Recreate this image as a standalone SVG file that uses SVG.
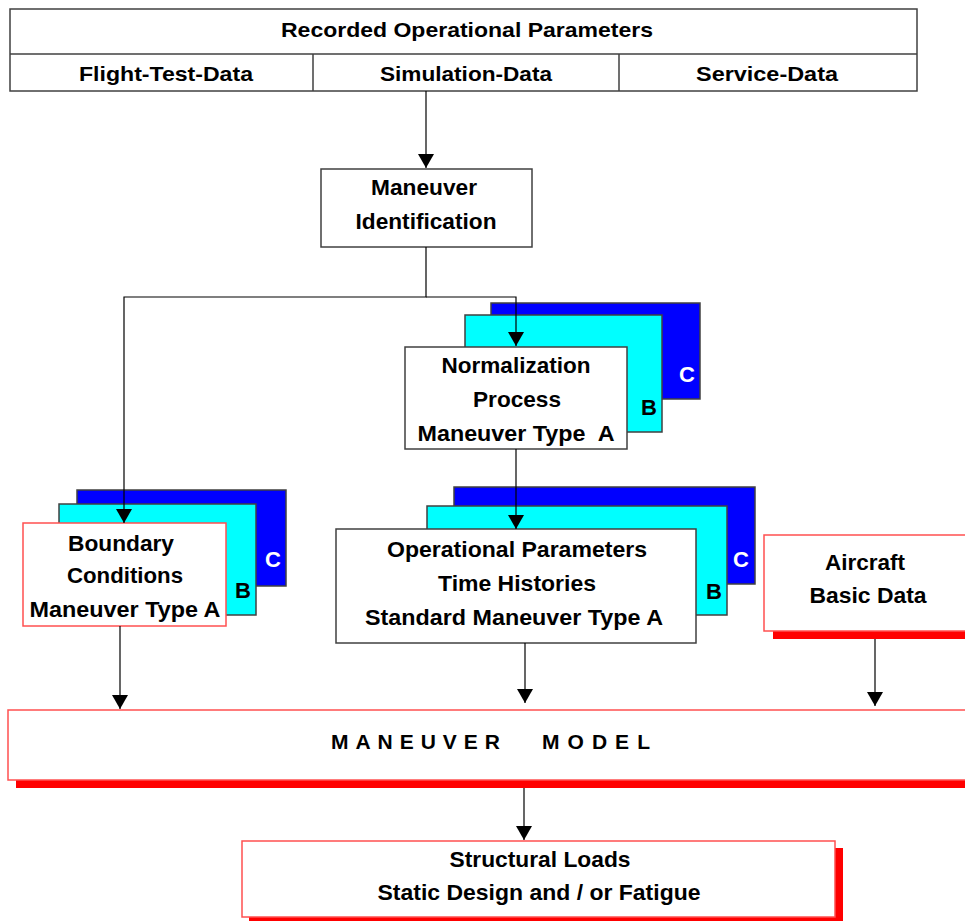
<svg xmlns="http://www.w3.org/2000/svg" width="965" height="921" viewBox="0 0 965 921">
<style>
text{font-family:"Liberation Sans",Arial,sans-serif;font-weight:bold;fill:#000;}
.t{font-size:21px;text-anchor:middle;}
.n{font-size:22px;text-anchor:middle;}
.box{fill:#fff;stroke:#404040;stroke-width:1.5;}
.rbox{fill:#fff;stroke:#ff5050;stroke-width:1.5;}
.cy{fill:#00ffff;stroke:#404040;stroke-width:1.5;}
.bl{fill:#0000ff;stroke:#404040;stroke-width:1.5;}
.sh{fill:#ff0000;}
.wl{fill:#fff;font-size:22px;text-anchor:middle;}
.bk{font-size:22px;text-anchor:middle;}
.edge{fill:none;stroke:#000;stroke-width:1.2;}
</style>
<defs>
<marker id="ah" viewBox="0 0 14 16" refX="14" refY="8" markerWidth="14" markerHeight="16" markerUnits="userSpaceOnUse" orient="auto">
<path d="M0,0 L14,8 L0,16 z" fill="#000"/>
</marker>
</defs>
<rect x="0" y="0" width="965" height="921" fill="#fff"/>

<g id="recorded">
<rect class="box" x="10" y="9" width="907" height="82"/>
<line x1="10" y1="54" x2="917" y2="54" stroke="#404040" stroke-width="1.5"/>
<line x1="313" y1="54" x2="313" y2="91" stroke="#404040" stroke-width="1.5"/>
<line x1="619" y1="54" x2="619" y2="91" stroke="#404040" stroke-width="1.5"/>
<text class="t" x="467" y="37" textLength="372" lengthAdjust="spacingAndGlyphs">Recorded Operational Parameters</text>
<text class="t" x="166" y="81" textLength="174" lengthAdjust="spacingAndGlyphs">Flight-Test-Data</text>
<text class="t" x="466" y="81" textLength="172" lengthAdjust="spacingAndGlyphs">Simulation-Data</text>
<text class="t" x="767" y="81" textLength="142" lengthAdjust="spacingAndGlyphs">Service-Data</text>
</g>

<g id="identification">
<rect class="box" x="321" y="169" width="211" height="78"/>
<text class="n" x="424" y="195" textLength="106" lengthAdjust="spacingAndGlyphs">Maneuver</text>
<text class="n" x="426" y="229" textLength="141" lengthAdjust="spacingAndGlyphs">Identification</text>
</g>

<g id="normalization">
<rect class="bl" x="491" y="303" width="209" height="96"/>
<rect class="cy" x="465" y="315" width="197" height="117"/>
<rect class="box" x="405" y="347" width="222" height="102"/>
<text class="wl" x="687" y="382">C</text>
<text class="bk" x="649" y="415">B</text>
<text class="n" x="516" y="373" textLength="149" lengthAdjust="spacingAndGlyphs">Normalization</text>
<text class="n" x="517" y="407" textLength="88" lengthAdjust="spacingAndGlyphs">Process</text>
<text class="n" x="516" y="441" textLength="197" lengthAdjust="spacingAndGlyphs" xml:space="preserve">Maneuver Type  A</text>
</g>

<g id="boundary">
<rect class="bl" x="77" y="490" width="209" height="96"/>
<rect class="cy" x="59" y="504" width="197" height="111"/>
<rect class="rbox" x="23" y="523" width="203" height="103"/>
<text class="wl" x="273" y="567">C</text>
<text class="bk" x="243" y="598">B</text>
<text class="n" x="121" y="551" textLength="106" lengthAdjust="spacingAndGlyphs">Boundary</text>
<text class="n" x="125" y="583" textLength="116" lengthAdjust="spacingAndGlyphs">Conditions</text>
<text class="n" x="125" y="617" textLength="191" lengthAdjust="spacingAndGlyphs">Maneuver Type A</text>
</g>

<g id="timehistories">
<rect class="bl" x="454" y="487" width="301" height="97"/>
<rect class="cy" x="427" y="506" width="300" height="109"/>
<rect class="box" x="336" y="529" width="360" height="114"/>
<text class="wl" x="741" y="567">C</text>
<text class="bk" x="714" y="599">B</text>
<text class="n" x="517" y="557" font-size="23" textLength="260" lengthAdjust="spacingAndGlyphs">Operational Parameters</text>
<text class="n" x="517" y="591" font-size="23" textLength="158" lengthAdjust="spacingAndGlyphs">Time Histories</text>
<text class="n" x="514" y="625" font-size="23" textLength="298" lengthAdjust="spacingAndGlyphs">Standard Maneuver Type A</text>
</g>

<g id="aircraft">
<rect class="sh" x="773" y="631" width="200" height="8"/>
<rect class="rbox" x="764" y="535" width="210" height="96"/>
<text class="n" x="865" y="570" textLength="80" lengthAdjust="spacingAndGlyphs">Aircraft</text>
<text class="n" x="868" y="603" textLength="117" lengthAdjust="spacingAndGlyphs">Basic Data</text>
</g>

<g id="model">
<rect class="sh" x="16" y="780" width="960" height="8"/>
<rect class="rbox" x="8" y="710" width="968" height="70"/>
<text x="331" y="749" font-size="21" textLength="169" lengthAdjust="spacing">MANEUVER</text>
<text x="542" y="749" font-size="21" textLength="108" lengthAdjust="spacing">MODEL</text>
</g>

<g id="loads">
<rect class="sh" x="835" y="848" width="8" height="73"/>
<rect class="sh" x="249" y="917" width="594" height="4"/>
<rect class="rbox" x="242" y="841" width="593" height="76"/>
<text class="n" x="540" y="867" textLength="181" lengthAdjust="spacingAndGlyphs">Structural Loads</text>
<text class="n" x="539" y="900" textLength="323" lengthAdjust="spacingAndGlyphs">Static Design and / or Fatigue</text>
</g>

<g id="connectors">
<path class="edge" d="M426,91 V168" marker-end="url(#ah)"/>
<path class="edge" d="M426,247 V297 H124 V523" marker-end="url(#ah)"/>
<path class="edge" d="M426,297 H516 V346" marker-end="url(#ah)"/>
<path class="edge" d="M516,449 V529" marker-end="url(#ah)"/>
<path class="edge" d="M120,626 V709" marker-end="url(#ah)"/>
<path class="edge" d="M525,643 V703" marker-end="url(#ah)"/>
<path class="edge" d="M875,639 V706" marker-end="url(#ah)"/>
<path class="edge" d="M524,788 V840" marker-end="url(#ah)"/>
</g>
</svg>
